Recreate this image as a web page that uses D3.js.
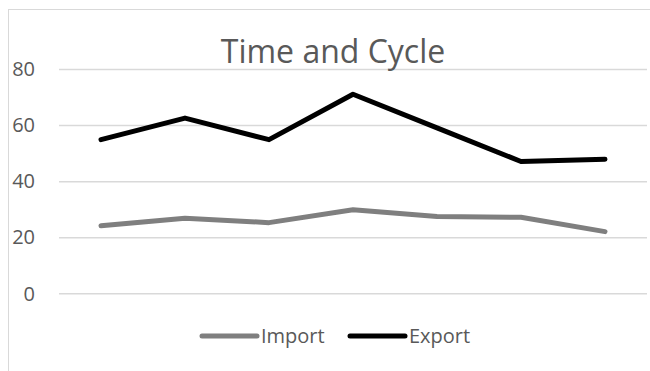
<!DOCTYPE html>
<html>
<head>
<meta charset="utf-8">
<script src="https://cdn.jsdelivr.net/npm/d3@7"></script>
<style>
  body { margin: 0; background: #fff; }
  text { font-family: "Open Sans", "Noto Sans", sans-serif; fill: #595959; }
</style>
</head>
<body>
<div id="chart"></div>
<script>
// datos
var categorias = ["1", "2", "3", "4", "5", "6", "7"];
var importacion = [24.1, 26.8, 25.2, 29.8, 27.4, 27.1, 22.0];
var exportacion = [54.8, 62.5, 54.8, 71.0, 59.0, 47.0, 47.8];
var ticksY = [0, 20, 40, 60, 80];

var W = 650, H = 371;
var margin = { top: 69, right: 3, bottom: 78, left: 59 };

var svg = d3.select("#chart").append("svg")
    .attr("width", W)
    .attr("height", H);

// borde del area del grafico
svg.append("rect")
    .attr("x", 8.5).attr("y", 9.5)
    .attr("width", W + 10).attr("height", H + 10)
    .attr("fill", "none")
    .attr("stroke", "#d9d9d9");

var x = d3.scaleBand().domain(categorias).range([margin.left, W - margin.right]);
var y = d3.scaleLinear().domain([0, 80]).range([293.3, 69]);

// lineas de la rejilla
svg.append("g")
    .attr("transform", "translate(" + margin.left + ",0)")
    .call(d3.axisLeft(y).tickValues(ticksY).tickSize(-(W - margin.right - margin.left)).tickFormat(""))
    .call(function(g){ g.select(".domain").remove(); })
    .selectAll("line")
    .attr("stroke", "#d9d9d9")
    .attr("stroke-width", 1.5);

// etiquetas del eje Y
svg.selectAll(".ylab")
    .data(ticksY)
  .enter().append("text")
    .attr("class", "ylab")
    .attr("x", 35)
    .attr("y", function(d){ return y(d); })
    .attr("dy", "0.36em")
    .attr("text-anchor", "end")
    .style("font-size", "20px")
    .text(function(d){ return d; });

// titulo
svg.append("text")
    .attr("x", 333)
    .attr("y", 63)
    .attr("text-anchor", "middle")
    .style("font-size", "32px")
    .text("Time and Cycle");

var linea = d3.line()
    .x(function(d, i){ return x(categorias[i]) + x.bandwidth() / 2; })
    .y(function(d){ return y(d); });

var series = [
  { nombre: "Import", valores: importacion, color: "#7f7f7f" },
  { nombre: "Export", valores: exportacion, color: "#000000" }
];

series.forEach(function(s){
  svg.append("path")
      .datum(s.valores)
      .attr("d", linea)
      .attr("fill", "none")
      .attr("stroke", s.color)
      .attr("stroke-width", 5)
      .attr("stroke-linejoin", "round")
      .attr("stroke-linecap", "round");
});

// leyenda
var leyX = [202, 350];
series.forEach(function(s, i){
  var g = svg.append("g").attr("transform", "translate(" + leyX[i] + ",336)");
  g.append("line")
      .attr("x1", 0).attr("x2", 55)
      .attr("stroke", s.color)
      .attr("stroke-width", 5)
      .attr("stroke-linecap", "round");
  g.append("text")
      .attr("x", 59)
      .attr("dy", "0.36em")
      .style("font-size", "20px")
      .text(s.nombre);
});
</script>
</body>
</html>
